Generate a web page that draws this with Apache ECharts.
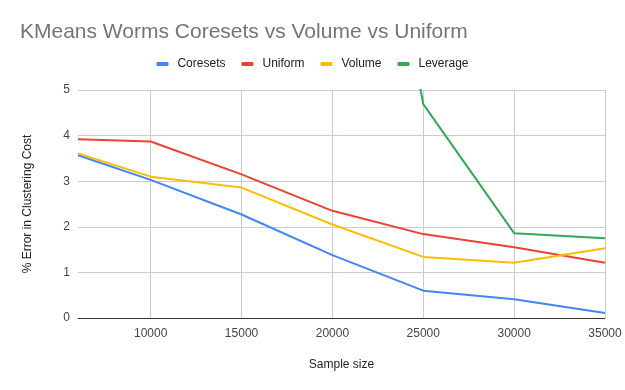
<!DOCTYPE html>
<html><head><meta charset="utf-8">
<script src="https://cdn.jsdelivr.net/npm/echarts@6/dist/echarts.min.js"></script>
<style>html,body{margin:0;padding:0;background:#fff}#c{width:625px;height:390px}</style>
</head><body><div id="c"></div>
<script>
const sampleSizes = [6000, 10000, 15000, 20000, 25000, 30000, 35000];
const coresets = [3.57, 3.03, 2.27, 1.38, 0.60, 0.41, 0.11];
const uniform  = [3.92, 3.87, 3.15, 2.35, 1.84, 1.55, 1.21];
const volume   = [3.61, 3.10, 2.86, 2.05, 1.34, 1.21, 1.53];
const leverage = [null, null, null, 15.4, 4.69, 1.86, 1.75];
const xTicks = [10000, 15000, 20000, 25000, 30000, 35000];
const yTicks = [0, 1, 2, 3, 4, 5];

const pair = arr => sampleSizes.map((x, i) => [x, arr[i]]);
const chart = echarts.init(document.getElementById('c'));
const font = '"Liberation Sans", Arial, sans-serif';
function mk(name, arr, color) {
  return { name, type: 'line', data: pair(arr), symbol: 'none', showSymbol: false,
    lineStyle: { width: 2, color }, itemStyle: { color }, connectNulls: false, clip: true };
}
chart.setOption({
  animation: false,
  title: { text: 'KMeans Worms Coresets vs Volume vs Uniform', left: 15, top: 17,
    textStyle: { fontFamily: font, fontSize: 21, fontWeight: 'normal', color: '#757575' } },
  legend: { top: 53, left: 'center', itemWidth: 12, itemHeight: 4, itemGap: 16,
    icon: 'roundRect',
    textStyle: { fontFamily: font, fontSize: 12, color: '#222', padding: [0, 0, 0, 4] } },
  grid: { left: 78, right: 20, top: 90, bottom: 72, containLabel: false },
  xAxis: { type: 'value', min: 6000, max: 35000,
    name: 'Sample size', nameLocation: 'middle', nameGap: 41,
    nameTextStyle: { fontFamily: font, fontSize: 12, color: '#222' },
    axisLine: { show: true, lineStyle: { color: '#333', width: 1 } },
    axisTick: { show: false, customValues: xTicks },
    axisLabel: { customValues: xTicks, margin: 10, fontFamily: font, fontSize: 12, color: '#444',
      formatter: v => String(v) },
    splitLine: { show: true, lineStyle: { color: '#ccc', width: 1 } } },
  yAxis: { type: 'value', min: 0, max: 5, interval: 1,
    name: '% Error in Clustering Cost', nameLocation: 'middle', nameGap: 44,
    nameTextStyle: { fontFamily: font, fontSize: 12, color: '#222' },
    axisLine: { show: false }, axisTick: { show: false },
    axisLabel: { margin: 8, fontFamily: font, fontSize: 12, color: '#444' },
    splitLine: { show: true, lineStyle: { color: '#ccc', width: 1 } } },
  series: [
    mk('Coresets', coresets, '#4285F4'),
    mk('Uniform', uniform, '#EA4335'),
    mk('Volume', volume, '#FBBC04'),
    mk('Leverage', leverage, '#34A853')
  ]
});
</script></body></html>
